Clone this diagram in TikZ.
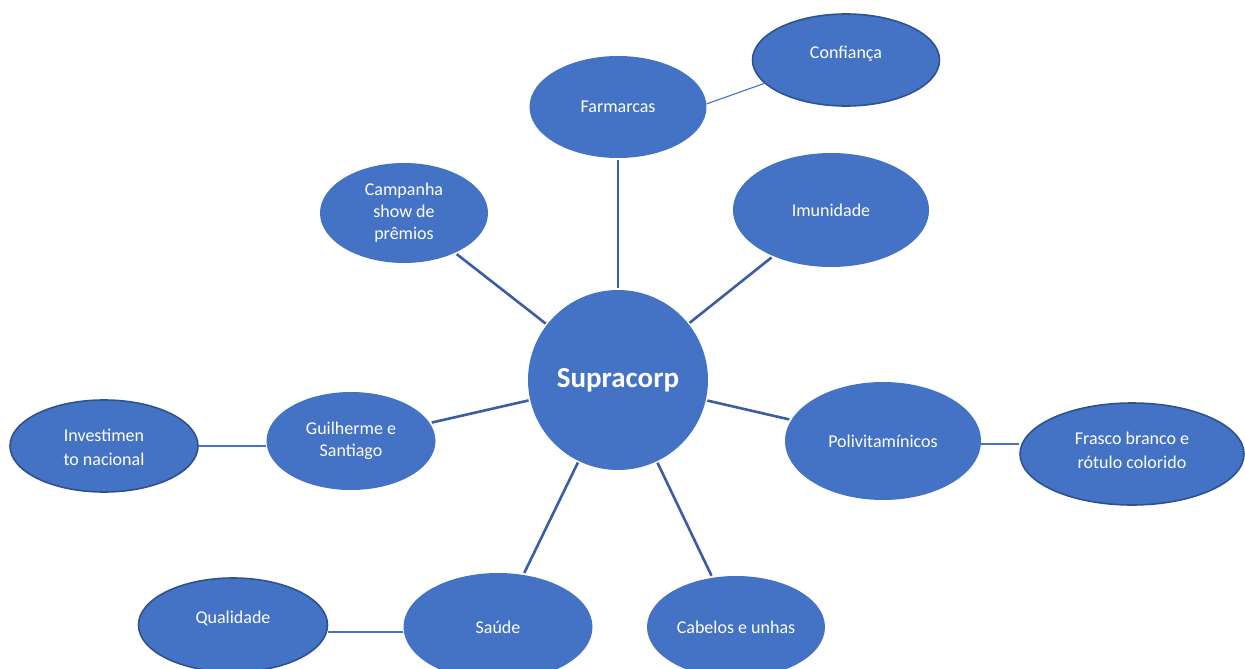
\documentclass[tikz,border=0pt]{standalone}
\usepackage{fontspec}
\setmainfont{Carlito}
\usetikzlibrary{shapes.geometric}
\definecolor{nodefill}{HTML}{4472C4}
\definecolor{nodeedge}{HTML}{2F528F}
\definecolor{spoke}{HTML}{3A5DA3}
\tikzset{
  bubble/.style={ellipse, fill=nodefill, text=white, inner sep=0pt, align=center,
    font=\fontsize{18}{22}\selectfont},
  outerbubble/.style={bubble, draw=nodeedge, line width=1.6pt},
  inlabel/.style={text=white, align=center, font=\fontsize{18}{24}\selectfont},
  spokeline/.style={draw=spoke, line width=2.6pt},
  thinline/.style={draw=nodefill, line width=1.1pt},
}
\begin{document}
\begin{tikzpicture}[x=1pt,y=-1pt]
\useasboundingbox (0,0) rectangle (1245,669);
\clip (0,0) rectangle (1245,669);
% centre
\node[bubble, minimum width=180, minimum height=180, font=\bfseries\fontsize{29}{33}\selectfont] (sup) at (618,380) {Supracorp};
% middle ring
\node[bubble, minimum width=177, minimum height=102] (far) at (618,107) {Farmarcas};
\node[bubble, minimum width=196, minimum height=114] (imu) at (831,210) {Imunidade};
\node[bubble, minimum width=168, minimum height=100] (cam) at (404,213) {Campanha\\show de\\prêmios};
\node[bubble, minimum width=169, minimum height=98] (gui) at (351,441) {Guilherme e\\Santiago};
\node[bubble, minimum width=196, minimum height=118] (pol) at (883,441) {Polivitamínicos};
\node[bubble, minimum width=178, minimum height=102] (cab) at (736,627) {Cabelos e unhas};
\node[bubble, minimum width=189, minimum height=108] (sau) at (498,627) {Saúde};
% outer ring
\node[outerbubble, minimum width=187, minimum height=92,
  label={[inlabel, yshift=6]center:Confiança}] (con) at (846,60) {};
\node[outerbubble, minimum width=188, minimum height=92,
  label={[inlabel, yshift=-1]center:Investimen\\to nacional}] (inv) at (104,446) {};
\node[outerbubble, minimum width=189, minimum height=94,
  label={[inlabel, yshift=7]center:Qualidade}] (qua) at (233,625) {};
\node[outerbubble, minimum width=224, minimum height=102,
  label={[inlabel, yshift=4]center:Frasco branco e\\rótulo colorido}] (fra) at (1132,454) {};
% spokes
\foreach \n in {far,imu,cam,gui,pol,cab,sau}
  \draw[spokeline, shorten <=1.5pt, shorten >=2pt] (sup) -- (\n);
% secondary links
\draw[thinline] (far.2) -- (con.196);
\draw[thinline] (inv.east) -- (gui.west |- inv.east);
\draw[thinline] (qua.east |- 0,632) -- (sau.west |- 0,632);
\draw[thinline] (pol.east |- 0,444) -- (fra.west |- 0,444);
\end{tikzpicture}
\end{document}
